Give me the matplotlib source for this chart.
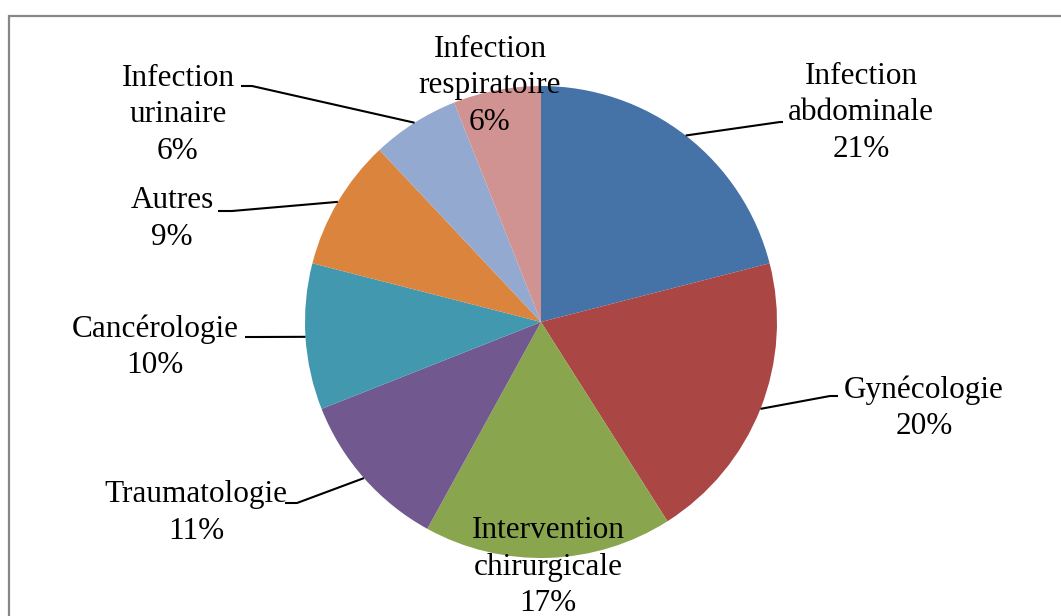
import numpy as np
import matplotlib.pyplot as plt
from matplotlib.patches import Rectangle

W, H = 1061, 616

labels = ['Infection\nabdominale', 'Gynécologie', 'Intervention\nchirurgicale',
          'Traumatologie', 'Cancérologie', 'Autres', 'Infection\nurinaire',
          'Infection\nrespiratoire']
values = [21, 20, 17, 11, 10, 9, 6, 6]
colors = ['#4572A7', '#AA4643', '#89A54E', '#71588F', '#4198AF', '#DB843D',
          '#93A9CF', '#D19392']

# label centres and leader elbows, in pixels from the top-left corner
label_pos = [(861, 113), (924, 408), (548, 567), (196, 513), (155, 347),
             (172, 219), (178, 115), (490, 86)]
elbows = [[(780, 122), (783, 122)], [(830, 396), (838, 396)], None,
          [(297, 503), (285, 503)], [(257, 337), (245, 337)],
          [(232, 211), (218, 211)], [(252, 86), (241, 86)], None]

cx, cy, r = 541, 322, 236

plt.rcParams['font.family'] = ['Liberation Serif', 'DejaVu Serif']

fig = plt.figure(figsize=(W / 100, H / 100), dpi=100)
ax = fig.add_axes([0, 0, 1, 1])

ax.pie(values, colors=colors, center=(cx, H - cy), radius=r,
       startangle=90, counterclock=False,
       wedgeprops=dict(linewidth=0))
ax.set_xlim(0, W)
ax.set_ylim(0, H)
ax.set_aspect('equal')
ax.axis('off')

cum = np.cumsum(values)
for i, (lab, v) in enumerate(zip(labels, values)):
    # leader starts on the rim at the middle of the wedge
    theta = np.radians(360 * (cum[i] - v / 2) / 100)
    ax_x = cx + r * np.sin(theta)
    ax_y = cy - r * np.cos(theta)
    tx, ty = label_pos[i]
    ax.text(tx, H - ty, f'{lab}\n{v}%', ha='center', va='center',
            multialignment='center', fontsize=22.5, linespacing=1.33,
            color='black')
    if elbows[i] is not None:
        pts = [(ax_x, ax_y)] + elbows[i]
        xs = [p[0] for p in pts]
        ys = [H - p[1] for p in pts]
        ax.plot(xs, ys, color='black', linewidth=1.5, solid_capstyle='butt')

ax.add_patch(Rectangle((9, -20), 1200, H - 16 + 20, fill=False,
                       edgecolor='#878787', linewidth=1.6))

fig.savefig('out.png', dpi=100)
